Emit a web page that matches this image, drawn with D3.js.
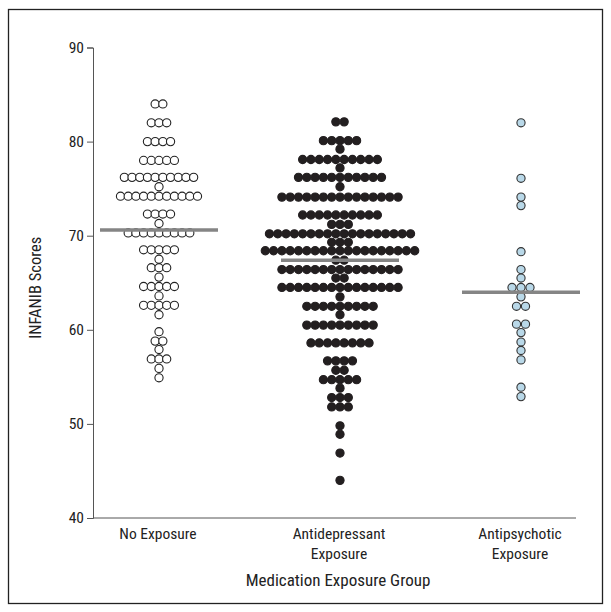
<!DOCTYPE html>
<html>
<head>
<meta charset="utf-8">
<script src="https://cdn.jsdelivr.net/npm/d3@7.9.0/dist/d3.min.js"></script>
<style>
  body { margin: 0; background: #fff; }
  svg text { font-family: "Liberation Sans Narrow", "Arial Narrow", "Roboto Condensed", sans-serif; fill: #222; }
</style>
</head>
<body>
<svg id="chart" width="611" height="612"></svg>
<script>
// groups
const groups = ['No Exposure', 'Antidepressant Exposure', 'Antipsychotic Exposure'];
const groupLines = [['No Exposure'], ['Antidepressant', 'Exposure'], ['Antipsychotic', 'Exposure']];

// score levels and how many infants sit on each level
const noExpLevels = [84, 82, 80, 78, 76.2, 75.2, 74.2, 72.3, 71.3, 70.3, 68.5, 67.5, 66.6, 65.6, 64.6, 63.6, 62.6, 61.6, 59.8, 58.8, 57.9, 56.9, 55.9, 54.9];
const noExpCounts = [2, 3, 4, 5, 10, 1, 11, 4, 1, 9, 5, 1, 3, 1, 5, 1, 5, 1, 1, 2, 1, 3, 1, 1];

const antidepLevels = [82.1, 80.1, 79.2, 78.1, 77.2, 76.2, 75.2, 74.1, 72.2, 71.2, 70.2, 69.3, 68.4, 67.4, 66.4, 65.5, 64.5, 63.5, 62.5, 61.6, 60.5, 58.6, 56.7, 55.7, 54.7, 53.8, 52.8, 51.8, 49.8, 48.9, 46.9, 44.0];
const antidepCounts = [2, 5, 1, 10, 1, 11, 1, 15, 10, 3, 18, 3, 19, 2, 15, 2, 15, 1, 9, 1, 9, 8, 4, 2, 5, 1, 3, 3, 1, 1, 1, 1];

const antipsyLevels = [82, 76.1, 74.1, 73.2, 68.3, 66.4, 65.5, 64.5, 63.5, 62.5, 60.6, 59.7, 58.7, 57.8, 56.8, 53.9, 52.9];
const antipsyCounts = [1, 1, 1, 1, 1, 1, 1, 3, 1, 2, 2, 1, 1, 1, 1, 1, 1];

// group medians (grey bars)
const medians = [70.6, 67.4, 64.0];

const yTicks = [40, 50, 60, 70, 80, 90];

const svg = d3.select('#chart');

// outer frame
svg.append('rect')
  .attr('x', 8.5).attr('y', 9.5)
  .attr('width', 594).attr('height', 594)
  .attr('fill', 'none')
  .attr('stroke', '#222')
  .attr('stroke-width', 1.3);

const y = d3.scaleLinear().domain([40, 90]).range([518, 47.5]);
const x = d3.scalePoint().domain(groups).range([159, 521]);

// y axis
const yAxis = svg.append('g')
  .attr('transform', 'translate(93,0)')
  .call(d3.axisLeft(y).tickValues(yTicks).tickSize(6).tickPadding(3));
yAxis.select('.domain').attr('stroke', '#555');
yAxis.selectAll('.tick line').attr('stroke', '#555');
yAxis.selectAll('.tick text').attr('font-size', 15.5).attr('fill', '#222');

// x axis line
svg.append('line')
  .attr('x1', 93).attr('x2', 576)
  .attr('y1', y(40)).attr('y2', y(40))
  .attr('stroke', '#555');

svg.append('text')
  .attr('transform', `translate(41,${(y(40) + y(90)) / 2 + 5}) rotate(-90)`)
  .attr('text-anchor', 'middle')
  .attr('font-size', 16.5)
  .text('INFANIB Scores');

// category labels
groups.forEach((g, i) => {
  groupLines[i].forEach((line, j) => {
    svg.append('text')
      .attr('x', x(g) - 1)
      .attr('y', 539 + j * 20)
      .attr('text-anchor', 'middle')
      .attr('font-size', 15.5)
      .text(line);
  });
});

svg.append('text')
  .attr('x', x(groups[1]) - 2)
  .attr('y', 586)
  .attr('text-anchor', 'middle')
  .attr('font-size', 17)
  .text('Medication Exposure Group');

// dots: each level is a row, centered on its group
const styles = [
  { fill: '#fff', stroke: '#222', gap: 7.7 },
  { fill: '#231f20', stroke: '#231f20', gap: 8.3 },
  { fill: '#b9d8e8', stroke: '#333', gap: 9 }
];
const levelSets = [[noExpLevels, noExpCounts], [antidepLevels, antidepCounts], [antipsyLevels, antipsyCounts]];

levelSets.forEach(([levels, counts], gi) => {
  const pts = [];
  levels.forEach((v, k) => {
    const n = counts[k];
    for (let i = 0; i < n; i++) pts.push({ v, off: i - (n - 1) / 2 });
  });
  svg.append('g').selectAll('circle')
    .data(pts)
    .join('circle')
    .attr('cx', d => x(groups[gi]) + d.off * styles[gi].gap)
    .attr('cy', d => y(d.v))
    .attr('r', 4.1)
    .attr('fill', styles[gi].fill)
    .attr('stroke', styles[gi].stroke)
    .attr('stroke-width', 1.1);
});

// median bars
svg.append('g').selectAll('line')
  .data(medians)
  .join('line')
  .attr('x1', (d, i) => x(groups[i]) - 59)
  .attr('x2', (d, i) => x(groups[i]) + 59)
  .attr('y1', d => y(d))
  .attr('y2', d => y(d))
  .attr('stroke', '#858585')
  .attr('stroke-width', 3.5);
</script>
</body>
</html>
